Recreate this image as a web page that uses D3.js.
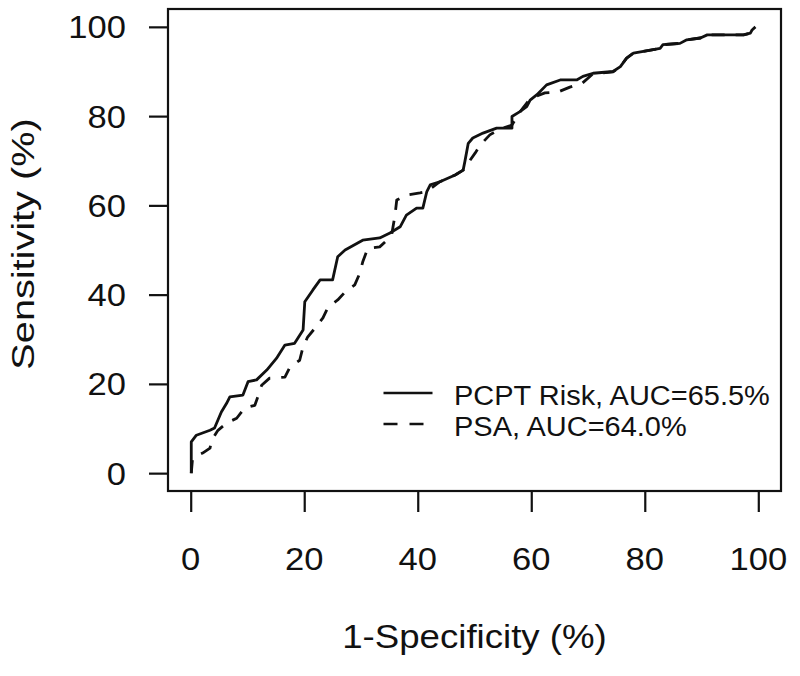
<!DOCTYPE html>
<html>
<head>
<meta charset="utf-8">
<script src="https://cdn.jsdelivr.net/npm/d3@7"></script>
<style>
  html, body { margin: 0; padding: 0; background: #fff; }
  svg { display: block; }
  text { font-family: "Liberation Sans", Arial, Helvetica, sans-serif; fill: #111; }
</style>
</head>
<body>
<svg id="chart" width="800" height="676"></svg>
<script>
// ---- data ----
const xTicks = [0, 20, 40, 60, 80, 100];
const yTicks = [0, 20, 40, 60, 80, 100];
const xLabel = "1-Specificity (%)";
const yLabel = "Sensitivity (%)";
const seriesNames = ["PCPT Risk, AUC=65.5%", "PSA, AUC=64.0%"];

// PCPT Risk ROC curve: [1-specificity %, sensitivity %]
const pcptFpr = [0.1,0.1,1.0,3.4,4.2,4.8,5.4,6.3,6.9,9.2,10.1,11.6,13.4,15.1,16.6,18.3,18.9,19.8,20.1,21.5,22.8,25.0,25.9,27.2,30.3,33.3,35.1,36.9,38.0,39.8,40.9,41.6,42.2,43.9,46.6,48.0,48.3,48.9,49.7,51.5,53.9,56.6,56.6,58.0,59.2,59.8,61.0,62.7,65.1,68.0,69.1,70.9,74.4,75.7,76.8,78.0,81.0,82.7,83.2,86.2,87.4,89.8,91.0,97.4,98.6,98.9,99.5];
const pcptTpr = [0,7.0,8.5,9.6,10.1,11.9,13.7,15.6,17.1,17.5,20.5,20.9,23.1,25.7,28.7,29.1,30.3,32.1,38.4,41.0,43.3,43.3,48.5,50.0,52.2,52.7,53.8,55.2,57.8,59.4,59.4,63.1,64.6,65.3,66.8,67.9,69.8,73.9,75.1,76.2,77.3,77.3,79.9,81.0,82.1,83.6,84.8,87.0,88.1,88.1,88.9,89.6,90.0,91.1,93.0,94.1,94.8,95.2,96.0,96.3,97.1,97.5,98.2,98.2,98.6,99.3,100];

// PSA ROC curve
const psaFpr = [0.1,0.3,0.9,2.1,3.4,3.7,4.8,6.3,8.1,9.5,11.3,11.8,12.5,13.9,16.6,17.5,19.2,19.8,20.6,21.9,23.3,24.2,25.9,27.2,28.9,29.8,30.3,31.2,33.3,34.6,35.4,36.0,36.3,38.0,40.4,41.6,43.9,46.6,48.0,50.1,51.0,52.7,54.5,56.6,58.0,59.8,62.4,64.7,66.8,69.0,70.9,74.4,75.7,76.8,78.0,81.0,82.7,83.2,86.2,87.4,89.8,91.0,97.4,98.6,98.9,99.5];
const psaTpr = [0,2.9,3.8,4.5,5.6,7.4,9.6,11.2,12.3,14.6,15.2,17.0,19.7,21.3,21.5,23.8,25.3,28.3,30.5,32.5,34.8,37.2,38.8,40.6,42.2,44.8,47.3,50.4,50.7,52.2,53.4,57.8,61.2,62.3,62.8,63.1,65.3,66.8,67.9,71.7,73.5,75.8,77.1,78.0,80.9,83.9,85.2,85.4,86.5,87.4,89.5,89.9,91.1,93.0,94.1,94.8,95.2,96.0,96.3,97.1,97.5,98.2,98.2,98.6,99.3,100];

// ---- layout ----
const svg = d3.select("#chart");
const plot = { left: 168, right: 781, top: 9, bottom: 491 };
const x = d3.scaleLinear().domain([-4, 104]).range([plot.left, plot.right]);
const y = d3.scaleLinear().domain([-4, 104]).range([plot.bottom, plot.top]);

// helper: horizontally stretched text
function stretchText(g, tx, ty, str, size, sx, anchor, rotate) {
  return g.append("text")
    .attr("transform", `translate(${tx},${ty})` + (rotate ? ` rotate(${rotate})` : "") + ` scale(${sx},1)`)
    .attr("font-size", size)
    .attr("text-anchor", anchor)
    .text(str);
}

// box
svg.append("rect")
  .attr("x", plot.left).attr("y", plot.top)
  .attr("width", plot.right - plot.left).attr("height", plot.bottom - plot.top)
  .attr("fill", "none").attr("stroke", "#111").attr("stroke-width", 2.2);

// x axis
const xAxis = d3.axisBottom(x).tickValues(xTicks).tickSize(21).tickFormat("");
const gx = svg.append("g").attr("transform", `translate(0,${plot.bottom})`).call(xAxis);
gx.select(".domain").remove();
gx.selectAll(".tick line").attr("stroke", "#111").attr("stroke-width", 2.2);
xTicks.forEach(v => stretchText(svg, x(v), 570, String(v), 32, 1.08, "middle"));

// y axis
const yAxis = d3.axisLeft(y).tickValues(yTicks).tickSize(19).tickFormat("");
const gy = svg.append("g").attr("transform", `translate(${plot.left},0)`).call(yAxis);
gy.select(".domain").remove();
gy.selectAll(".tick line").attr("stroke", "#111").attr("stroke-width", 2.2);
yTicks.forEach(v => stretchText(svg, 126, y(v) + 11.5, String(v), 32, 1.08, "end"));

// axis titles
stretchText(svg, (plot.left + plot.right) / 2, 648, xLabel, 33, 1.11, "middle");
stretchText(svg, 34, 244, yLabel, 32, 1.24, "middle", -90);

// curves
const line = d3.line().x(d => x(d[0])).y(d => y(d[1]));
const pcpt = pcptFpr.map((v, i) => [v, pcptTpr[i]]);
const psa = psaFpr.map((v, i) => [v, psaTpr[i]]);

svg.append("path").datum(psa).attr("d", line)
  .attr("fill", "none").attr("stroke", "#111").attr("stroke-width", 2.8)
  .attr("stroke-dasharray", "13,11").attr("stroke-linejoin", "round");
svg.append("path").datum(pcpt).attr("d", line)
  .attr("fill", "none").attr("stroke", "#111").attr("stroke-width", 2.8)
  .attr("stroke-linejoin", "round");

// legend
const leg = svg.append("g");
const legX1 = 383.5, legX2 = 432.5, legTextX = 454;
const legY = [393, 424];
leg.append("line").attr("x1", legX1).attr("x2", legX2).attr("y1", legY[0]).attr("y2", legY[0])
  .attr("stroke", "#111").attr("stroke-width", 2.6);
leg.append("line").attr("x1", legX1).attr("x2", legX2).attr("y1", legY[1]).attr("y2", legY[1])
  .attr("stroke", "#111").attr("stroke-width", 2.6).attr("stroke-dasharray", "14,12");
seriesNames.forEach((s, i) => stretchText(leg, legTextX, legY[i] + 12, s, 28, 1.035, "start"));
</script>
</body>
</html>
